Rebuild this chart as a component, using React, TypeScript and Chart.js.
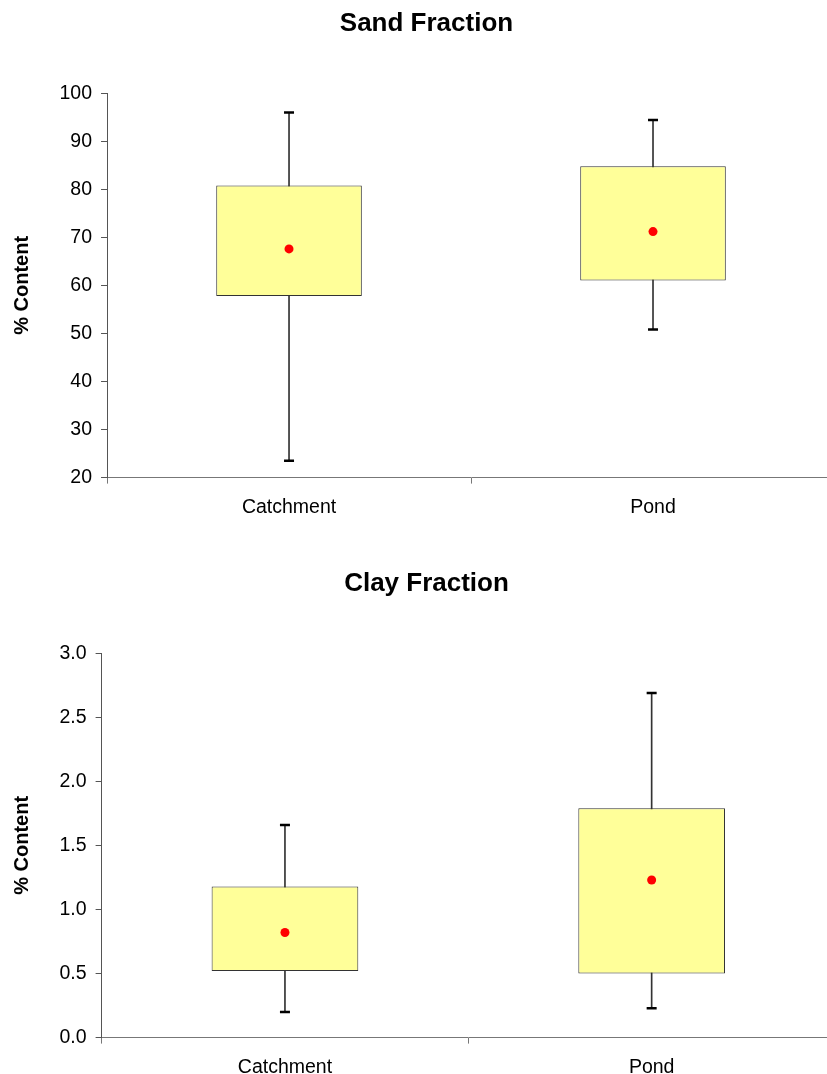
import React, { useEffect, useRef } from "react";
import { Chart, registerables } from "chart.js";

Chart.register(...registerables);

const categories = ["Catchment", "Pond"];

const sandMin = [23.5, 50.8];
const sandQ1 = [57.8, 61.0];
const sandQ3 = [80.8, 84.8];
const sandMax = [96.0, 94.4];
const sandMean = [67.6, 71.2];
const sandTicks = { min: 20, max: 100, step: 10, decimals: 0 };

const clayMin = [0.2, 0.23];
const clayQ1 = [0.52, 0.5];
const clayQ3 = [1.18, 1.79];
const clayMax = [1.66, 2.69];
const clayMean = [0.82, 1.23];
const clayTicks = { min: 0, max: 3, step: 0.5, decimals: 1 };

const FONT = "'Liberation Sans', Arial, Helvetica, sans-serif";
const W = 856;
const H = 560;

type Series = {
  title: string;
  min: number[];
  q1: number[];
  q3: number[];
  max: number[];
  mean: number[];
  ticks: { min: number; max: number; step: number; decimals: number };
};

function makeConfig(s: Series): any {
  return {
    type: "bar",
    data: {
      labels: categories,
      datasets: [
        {
          type: "line",
          label: "Mean",
          data: s.mean,
          showLine: false,
          pointRadius: 4.5,
          pointBackgroundColor: "#FF0000",
          pointBorderColor: "#FF0000",
          pointBorderWidth: 0,
          order: 0,
        },
        {
          type: "line",
          label: "Max",
          data: s.max,
          showLine: false,
          pointStyle: "line",
          pointRadius: 5,
          pointBorderWidth: 2.5,
          pointBorderColor: "#000",
          order: 1,
        },
        {
          type: "line",
          label: "Min",
          data: s.min,
          showLine: false,
          pointStyle: "line",
          pointRadius: 5,
          pointBorderWidth: 2.5,
          pointBorderColor: "#000",
          order: 1,
        },
        {
          type: "bar",
          label: "Box",
          data: categories.map((_, i) => [s.q1[i], s.q3[i]]),
          backgroundColor: "#FFFF99",
          borderColor: "#333333",
          borderWidth: 1,
          borderSkipped: false,
          barPercentage: 0.4,
          categoryPercentage: 1,
          grouped: false,
          order: 2,
        },
        {
          type: "bar",
          label: "Whisker",
          data: categories.map((_, i) => [s.min[i], s.max[i]]),
          backgroundColor: "#333333",
          borderWidth: 0,
          barThickness: 1,
          grouped: false,
          order: 3,
        },
      ],
    },
    options: {
      animation: false,
      responsive: false,
      maintainAspectRatio: false,
      layout: { padding: { left: 18, right: 21, top: 0, bottom: 29 } },
      plugins: {
        legend: { display: false },
        tooltip: { enabled: false },
        title: {
          display: true,
          text: s.title,
          color: "#000",
          font: { family: FONT, size: 26, weight: "bold" },
          padding: { top: 8, bottom: 54 },
        },
      },
      scales: {
        x: {
          type: "category",
          offset: true,
          grid: {
            display: true,
            offset: true,
            drawOnChartArea: false,
            drawTicks: true,
            tickLength: 6,
            color: "#777",
          },
          border: { display: true, color: "#777", width: 1 },
          ticks: {
            color: "#000",
            font: { family: FONT, size: 19.5 },
            padding: 12,
            maxRotation: 0,
          },
        },
        y: {
          type: "linear",
          min: s.ticks.min,
          max: s.ticks.max,
          grid: {
            display: true,
            drawOnChartArea: false,
            drawTicks: true,
            tickLength: 6,
            color: "#555",
          },
          border: { display: true, color: "#555", width: 1 },
          ticks: {
            stepSize: s.ticks.step,
            color: "#000",
            font: { family: FONT, size: 19.5 },
            padding: 9,
            callback: (v: any) => Number(v).toFixed(s.ticks.decimals),
          },
          title: {
            display: true,
            text: "% Content",
            color: "#000",
            font: { family: FONT, size: 20, weight: "bold" },
            padding: { top: -8, bottom: 16.5 },
          },
        },
      },
    },
  };
}

function BoxChart({ series, top }: { series: Series; top: number }) {
  const ref = useRef<HTMLCanvasElement | null>(null);
  useEffect(() => {
    if (!ref.current) return;
    const chart = new Chart(ref.current, makeConfig(series));
    return () => chart.destroy();
  }, [series]);
  return (
    <canvas
      ref={ref}
      width={W}
      height={H}
      style={{ position: "absolute", left: 0, top, width: W, height: H }}
    />
  );
}

const sandSeries: Series = {
  title: "Sand Fraction",
  min: sandMin,
  q1: sandQ1,
  q3: sandQ3,
  max: sandMax,
  mean: sandMean,
  ticks: sandTicks,
};

const claySeries: Series = {
  title: "Clay Fraction",
  min: clayMin,
  q1: clayQ1,
  q3: clayQ3,
  max: clayMax,
  mean: clayMean,
  ticks: clayTicks,
};

export default function App() {
  return (
    <div
      style={{
        position: "absolute",
        left: 0,
        top: 0,
        width: 827,
        height: 1074,
        overflow: "hidden",
        background: "#fff",
      }}
    >
      <BoxChart series={sandSeries} top={0} />
      <BoxChart series={claySeries} top={560} />
    </div>
  );
}
